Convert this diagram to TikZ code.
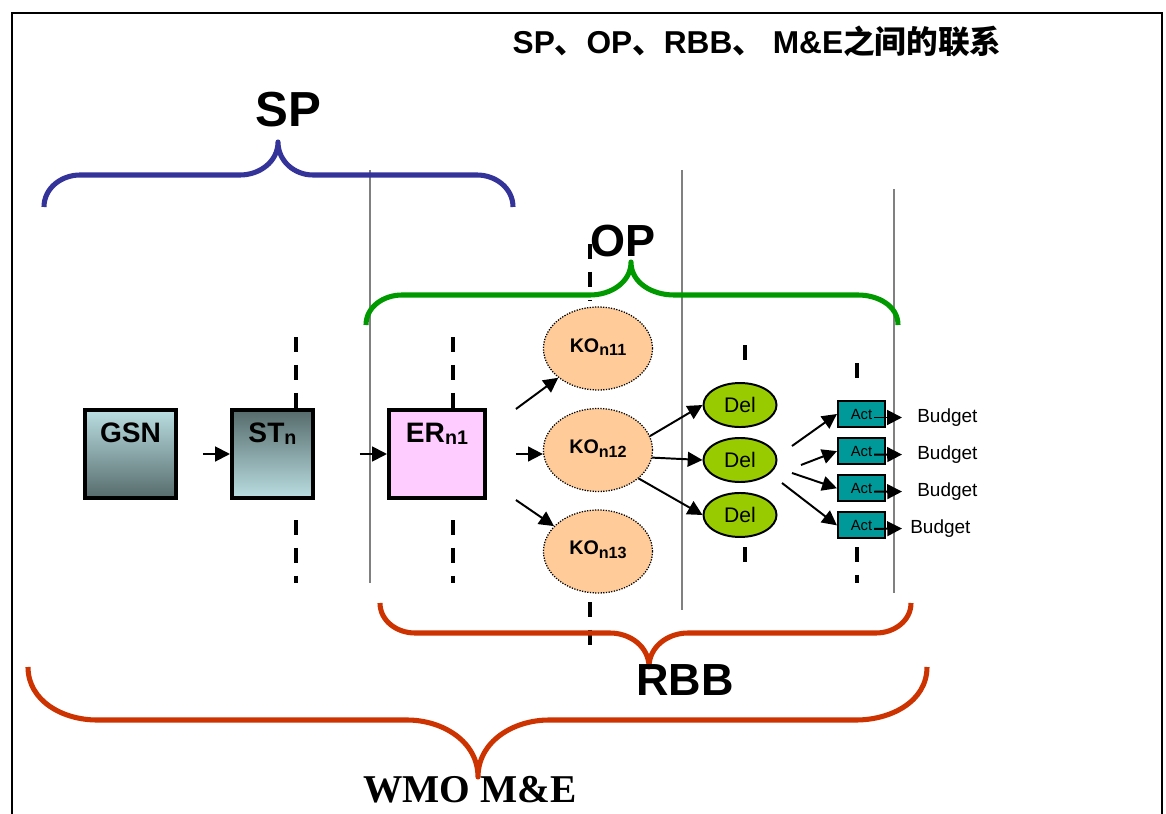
\documentclass[tikz,border=0pt]{standalone}
\usepackage{fontspec}
\setmainfont{Liberation Sans}
\newfontfamily\cjk{Noto Sans CJK SC}
\newfontfamily\timesbf{Liberation Serif}
\usepackage{xcolor}
\usepackage{tikz}
\usetikzlibrary{arrows.meta, positioning, shapes.geometric}

\definecolor{spblue}{HTML}{333399}
\definecolor{opgreen}{HTML}{009900}
\definecolor{rbbred}{HTML}{CC3300}
\definecolor{boxlight}{HTML}{BADEE2}
\definecolor{boxdark}{HTML}{566B6B}
\definecolor{erfill}{HTML}{FFCCFF}
\definecolor{kofill}{HTML}{FFCC99}
\definecolor{delfill}{HTML}{99CC00}
\definecolor{actfill}{HTML}{009999}
\definecolor{sepgray}{HTML}{808080}

\newcommand{\bsub}[1]{\raisebox{-1pt}{\fontsize{14}{14}\selectfont #1}}
\newcommand{\ksub}[1]{\raisebox{-2.5pt}{\fontsize{11.5}{12}\selectfont #1}}

\begin{document}
\begin{tikzpicture}[
    x=0.025cm, y=0.025cm,
    node distance=0.225cm,
    arrow/.style={-{Triangle[length=10.5pt, width=10.5pt]}, line width=1.4pt},
    gsnbox/.style={rectangle, draw, line width=2.8pt, text height=0.5cm, text depth=1.05cm, inner ysep=0.325cm, inner xsep=0pt, font=\bfseries\fontsize{20}{24}\selectfont},
    kobox/.style={ellipse, draw, densely dotted, line width=0.9pt, fill=kofill, minimum width=2.725cm, minimum height=2.075cm, text height=0.325cm, text depth=0.15cm, font=\bfseries\fontsize{14}{16}\selectfont},
    delbox/.style={ellipse, draw, line width=1.4pt, fill=delfill, minimum width=1.825cm, minimum height=1.1cm, font=\fontsize{15}{17}\selectfont},
    actbox/.style={rectangle, draw, line width=1.5pt, fill=actfill, minimum width=1.175cm, minimum height=0.65cm, inner sep=0pt, font=\fontsize{10.5}{12}\selectfont},
    budget/.style={anchor=west, inner sep=0pt, font=\fontsize{13.5}{15}\selectfont},
    brlabel/.style={anchor=base, inner sep=0pt, font=\bfseries\fontsize{#1}{#1}\selectfont},
    brace/.style={line width=3.6pt, line join=round},
    divider/.style={line width=2.6pt, dash pattern=on 10.7pt off 9.2pt},
    sepline/.style={draw=sepgray, line width=1pt},
  ]
    \useasboundingbox (0,0) rectangle (1166,-814);

    % Frame
    \draw[line width=2.1pt] (12,-814) -- (12,-13) -- (1162,-13) -- (1162,-814);

    % Separators
    \draw[sepline] (370,-170) -- (370,-583);
    \draw[sepline] (682,-170) -- (682,-610);
    \draw[sepline] (894,-189) -- (894,-593);

    \draw[divider] (296,-337) -- (296,-408);
    \draw[divider] (296,-520) -- (296,-583);
    \draw[divider] (453,-337) -- (453,-408);
    \draw[divider] (453,-520) -- (453,-583);
    \draw[divider] (590,-244) -- (590,-300);
    \draw[divider] (590,-602) -- (590,-645);
    \draw[divider] (745,-345) -- (745,-360);
    \draw[divider] (745,-547) -- (745,-563);
    \draw[divider] (857,-363) -- (857,-379);
    \draw[divider] (857,-547) -- (857,-583);

    % Braces
    \draw[brace, spblue] (44,-207) to[out=90,in=180] (80,-175) -- (240,-175)
      to[out=0,in=-90] (278,-142) to[out=-90,in=180] (313,-175) -- (477,-175)
      to[out=0,in=90] (513,-207);
    \draw[brace, opgreen] (366,-325) to[out=90,in=180] (402,-295) -- (590,-295)
      to[out=0,in=-90] (631,-262) to[out=-90,in=180] (674,-295) -- (858,-295)
      to[out=0,in=90] (898,-325);
    \draw[brace, rbbred] (380,-603) to[out=-90,in=180] (415,-633) -- (610,-633)
      to[out=0,in=90] (649,-667) to[out=90,in=180] (688,-633) -- (876,-633)
      to[out=0,in=-90] (911,-603);
    \draw[brace, rbbred] (28,-667) to[out=-90,in=180] (97,-720) -- (407,-720)
      to[out=0,in=90] (478,-777) to[out=90,in=180] (549,-720) -- (856,-720)
      to[out=0,in=-90] (927,-667);

    % Labels
    \node[anchor=base, inner sep=0pt, font=\bfseries\fontsize{22.5}{26}\selectfont] (title) at (757,-54)
      {SP{\cjk 、}OP{\cjk 、}RBB{\cjk 、} M\&E{\cjk 之间的联系}};
    \node[brlabel=35] (sp) at (288,-127) {SP};
    \node[brlabel=32] (op) at (623,-257) {OP};
    \node[brlabel=32] (rbb) at (685,-695) {RBB};
    \node[anchor=base, inner sep=0pt, font=\timesbf\bfseries\fontsize{28}{30}\selectfont] (wmo) at (470,-802) {WMO M\&E};

    % Nodes
    \node[gsnbox, minimum width=2.275cm, top color=boxlight, bottom color=boxdark] (gsn) at (130.5,-454) {GSN};
    \node[gsnbox, minimum width=2.025cm, top color=boxdark, bottom color=boxlight, right=1.3cm of gsn] (st) {ST\bsub{n}};
    \node[gsnbox, minimum width=2.4cm, fill=erfill, right=1.8cm of st] (er) {ER\bsub{n1}};

    \node[kobox] (ko12) at (598,-450) {KO\ksub{n12}};
    \node[kobox, above=0.43cm of ko12] (ko11) {KO\ksub{n11}};
    \node[kobox, below=0.43cm of ko12] (ko13) {KO\ksub{n13}};

    \node[delbox] (del2) at (740,-460) {Del};
    \node[delbox, above=of del2] (del1) {Del};
    \node[delbox, below=of del2] (del3) {Del};

    \node[actbox] (act1) at (861.5,-414) {Act};
    \node[actbox, below=of act1] (act2) {Act};
    \node[actbox, below=of act2] (act3) {Act};
    \node[actbox, below=of act3] (act4) {Act};

    \node[budget] (bud1) at (917,-417.5) {Budget};
    \node[budget] (bud2) at (917,-454.5) {Budget};
    \node[budget] (bud3) at (917,-491.5) {Budget};
    \node[budget] (bud4) at (910,-528.5) {Budget};

    % Arrows
    \draw[arrow, shorten <=0.625cm] (gsn.east) -- (st.west);
    \draw[arrow, shorten <=1.125cm] (st.east) -- (er.west);

    \draw[arrow] ([shift={(29,45)}]er.east) -- (ko11);
    \draw[arrow] ([xshift=0.725cm]er.east) -- (ko12.west |- er.east);
    \draw[arrow] ([shift={(29,-46)}]er.east) -- (ko13.150);

    \draw[arrow] (ko12.15) -- (del1.west);
    \draw[arrow] (ko12.-8) -- (del2.west);
    \draw[arrow] (ko12.-35) -- (del3.west);

    \draw[arrow] ([shift={(14.5,14)}]del2.east) -- (act1.west);
    \draw[arrow] ([shift={(23.5,-5)}]del2.east) -- (act2.west);
    \draw[arrow] ([shift={(14.5,-13)}]del2.east) -- (act3.west);
    \draw[arrow] ([shift={(4.5,-23)}]del2.east) -- (act4.west);

    \draw[arrow, shorten >=0.375cm] ([shift={(-12,-3.5)}]act1.east) -- (bud1.west);
    \draw[arrow, shorten >=0.375cm] ([shift={(-12,-3.5)}]act2.east) -- (bud2.west);
    \draw[arrow, shorten >=0.375cm] ([shift={(-12,-3.5)}]act3.east) -- (bud3.west);
    \draw[arrow, shorten >=0.2cm] ([shift={(-12,-3.5)}]act4.east) -- (bud4.west);

  \end{tikzpicture}
\end{document}
